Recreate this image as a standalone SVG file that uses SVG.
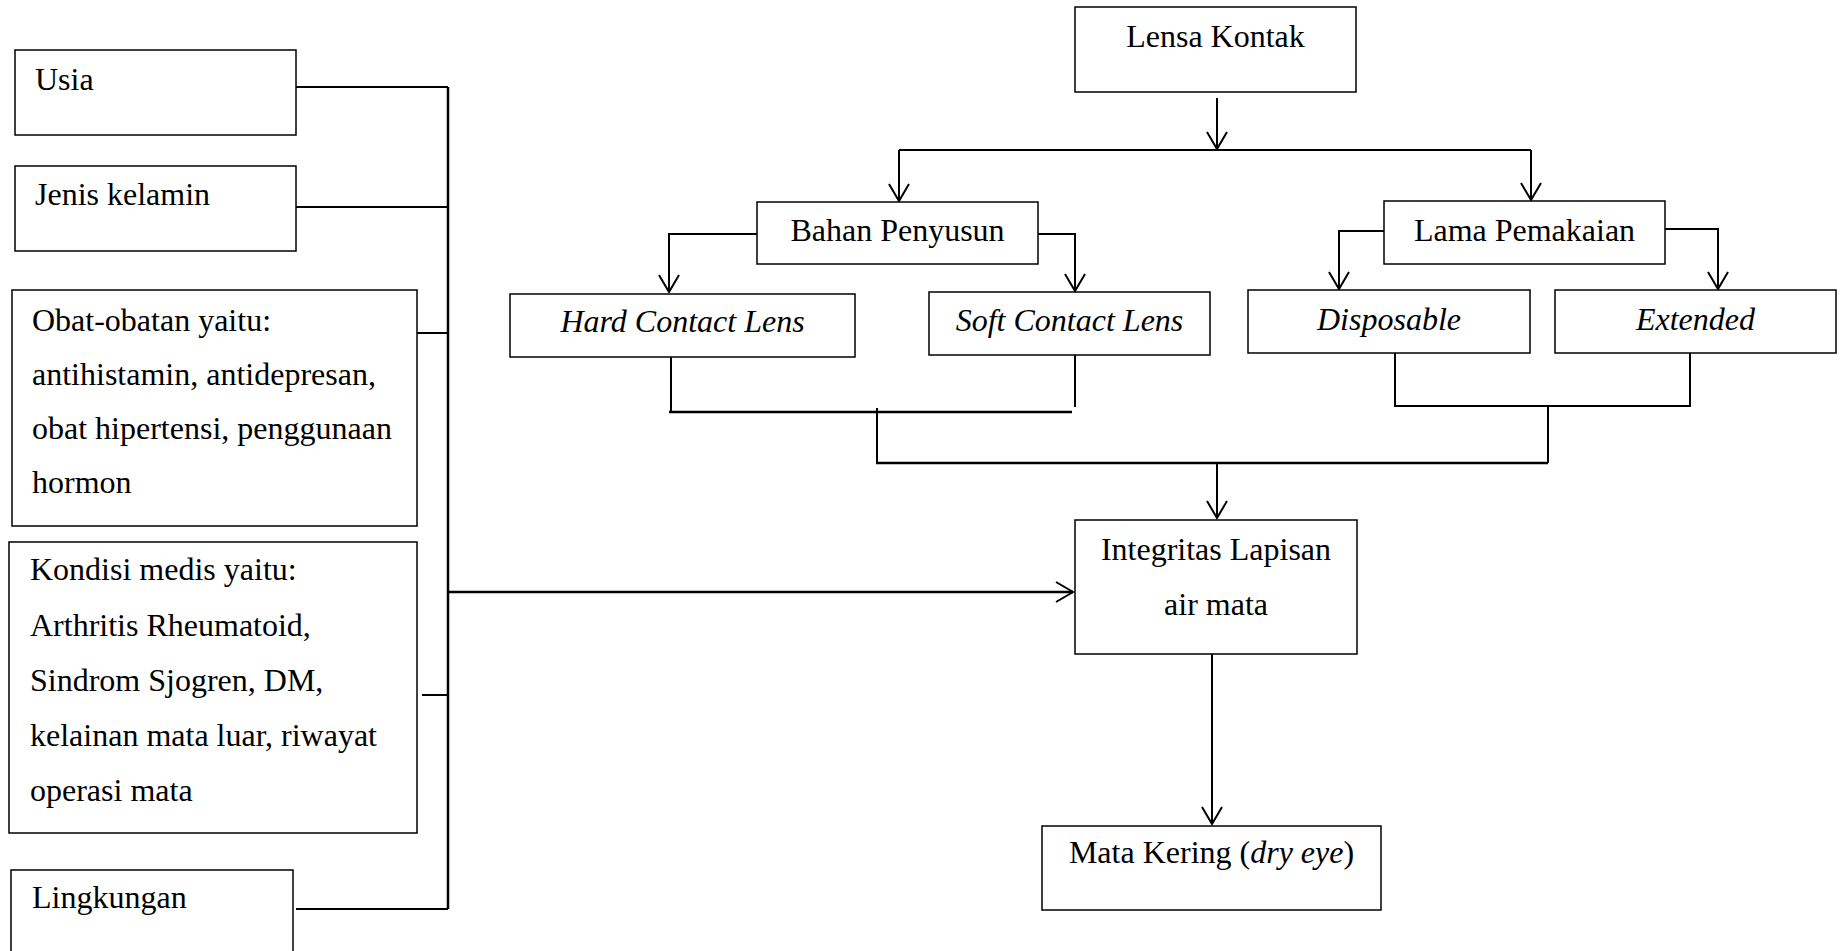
<svg xmlns="http://www.w3.org/2000/svg" width="1841" height="951" viewBox="0 0 1841 951">
<style>
  .box { fill: #fff; stroke: #000; stroke-width: 1.5; }
  .t { font-family: "Liberation Serif", "Times New Roman", serif; font-size: 32px; fill: #000; }
  .c { text-anchor: middle; }
  .i { font-style: italic; }
  .ln { fill: none; stroke: #000; stroke-width: 2; }
  .main { fill: none; stroke: #000; stroke-width: 2.5; }
</style>
<defs>
  <marker id="arr" markerUnits="userSpaceOnUse" markerWidth="20" markerHeight="22" refX="18" refY="11" orient="auto" overflow="visible">
    <path d="M1,1 L18,11 L1,21" fill="none" stroke="#000" stroke-width="2"/>
  </marker>
</defs>
<rect width="1841" height="951" fill="#fff"/>

<g id="connectors">
  <path class="ln" d="M296,87 H448"/>
  <path class="ln" d="M296,207 H448"/>
  <path class="ln" d="M417,333 H448"/>
  <path class="ln" d="M422,695 H448"/>
  <path class="ln" d="M296,909 H448"/>
  <path class="main" d="M448,87 V909"/>
  <path class="main" d="M448,592 H1073" marker-end="url(#arr)"/>

  <path class="ln" d="M1217,98 V149" marker-end="url(#arr)"/>
  <path class="ln" d="M899,150 H1531"/>
  <path class="ln" d="M899,150 V201" marker-end="url(#arr)"/>
  <path class="ln" d="M1531,150 V200" marker-end="url(#arr)"/>

  <path class="ln" d="M757,234 H669 V292" marker-end="url(#arr)"/>
  <path class="ln" d="M1038,234 H1075 V291" marker-end="url(#arr)"/>
  <path class="ln" d="M1384,231 H1339 V289" marker-end="url(#arr)"/>
  <path class="ln" d="M1665,229 H1718 V289" marker-end="url(#arr)"/>

  <path class="ln" d="M671,357 V412"/>
  <path class="ln" d="M1075,355 V407"/>
  <path class="main" d="M669,412 H1072"/>
  <path class="ln" d="M877,408 V463"/>

  <path class="ln" d="M1395,353 V406 H1690 V353"/>
  <path class="ln" d="M1548,406 V463"/>
  <path class="main" d="M876,463 H1548"/>

  <path class="ln" d="M1217,463 V518" marker-end="url(#arr)"/>
  <path class="ln" d="M1212,654 V824" marker-end="url(#arr)"/>
</g>

<g id="usia">
  <rect class="box" x="15" y="50" width="281" height="85"/>
  <text class="t" x="35" y="90">Usia</text>
</g>
<g id="jenis-kelamin">
  <rect class="box" x="15" y="166" width="281" height="85"/>
  <text class="t" x="35" y="205">Jenis kelamin</text>
</g>
<g id="obat">
  <rect class="box" x="12" y="290" width="405" height="236"/>
  <text class="t" x="32" y="331">Obat-obatan yaitu:</text>
  <text class="t" x="32" y="385">antihistamin, antidepresan,</text>
  <text class="t" x="32" y="439">obat hipertensi, penggunaan</text>
  <text class="t" x="32" y="493">hormon</text>
</g>
<g id="kondisi-medis">
  <rect class="box" x="9" y="542" width="408" height="291"/>
  <text class="t" x="30" y="580">Kondisi medis yaitu:</text>
  <text class="t" x="30" y="636">Arthritis Rheumatoid,</text>
  <text class="t" x="30" y="691">Sindrom Sjogren, DM,</text>
  <text class="t" x="30" y="746">kelainan mata luar, riwayat</text>
  <text class="t" x="30" y="801">operasi mata</text>
</g>
<g id="lingkungan">
  <rect class="box" x="11" y="870" width="282" height="100"/>
  <text class="t" x="32" y="908">Lingkungan</text>
</g>

<g id="lensa-kontak">
  <rect class="box" x="1075" y="7" width="281" height="85"/>
  <text class="t c" x="1215.5" y="47">Lensa Kontak</text>
</g>
<g id="bahan-penyusun">
  <rect class="box" x="757" y="202" width="281" height="62"/>
  <text class="t c" x="897.5" y="241">Bahan Penyusun</text>
</g>
<g id="lama-pemakaian">
  <rect class="box" x="1384" y="201" width="281" height="63"/>
  <text class="t c" x="1524.5" y="241">Lama Pemakaian</text>
</g>
<g id="hard-contact-lens">
  <rect class="box" x="510" y="294" width="345" height="63"/>
  <text class="t c i" x="682.5" y="332">Hard Contact Lens</text>
</g>
<g id="soft-contact-lens">
  <rect class="box" x="929" y="292" width="281" height="63"/>
  <text class="t c i" x="1069.5" y="331">Soft Contact Lens</text>
</g>
<g id="disposable">
  <rect class="box" x="1248" y="290" width="282" height="63"/>
  <text class="t c i" x="1389" y="330">Disposable</text>
</g>
<g id="extended">
  <rect class="box" x="1555" y="290" width="281" height="63"/>
  <text class="t c i" x="1695.5" y="330">Extended</text>
</g>
<g id="integritas">
  <rect class="box" x="1075" y="520" width="282" height="134"/>
  <text class="t c" x="1216" y="560">Integritas Lapisan</text>
  <text class="t c" x="1216" y="615">air mata</text>
</g>
<g id="mata-kering">
  <rect class="box" x="1042" y="826" width="339" height="84"/>
  <text class="t c" x="1211.5" y="863">Mata Kering (<tspan class="i">dry eye</tspan>)</text>
</g>
</svg>
